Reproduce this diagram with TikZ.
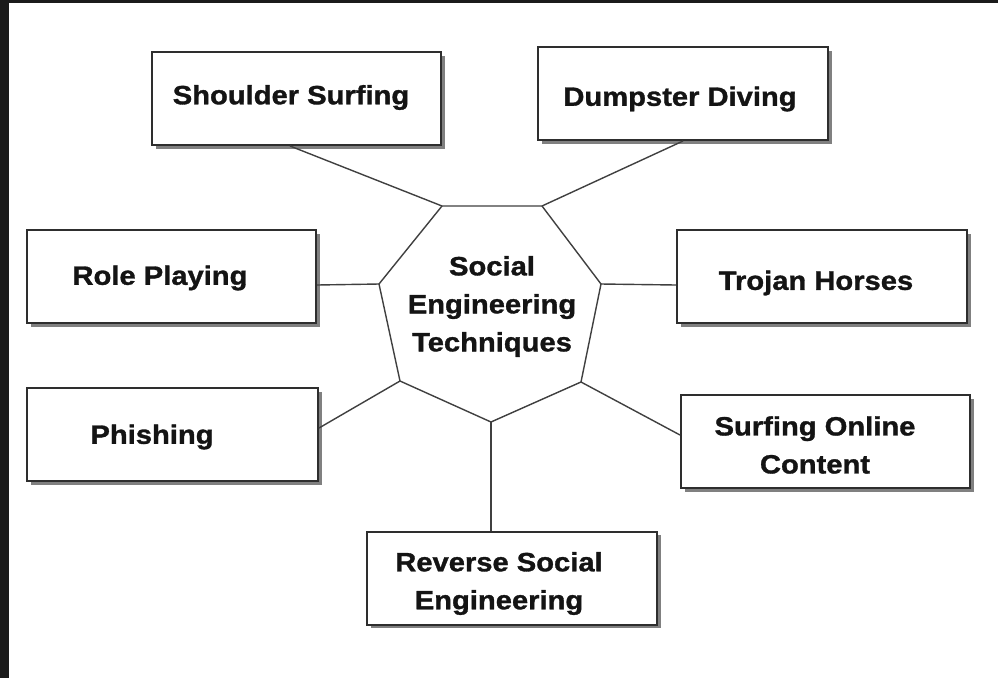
\documentclass[tikz,border=0pt]{standalone}
\usepackage{fontspec}
\setmainfont{Liberation Sans}[FakeStretch=1.1, BoldFeatures={FakeBold=1.2}]
\usetikzlibrary{shadows}
\definecolor{frame}{HTML}{1B1B1B}
\definecolor{edge}{HTML}{2E2E2E}
\definecolor{conn}{HTML}{404040}
\tikzset{
  tbox/.style={draw=edge, line width=2pt, fill=white, rectangle,
    minimum width=#1, minimum height=93pt, inner sep=0pt,
    drop shadow={shadow xshift=3.5pt, shadow yshift=-3.5pt, fill=gray!90!black, opacity=0.9}},
  tbox/.default=289pt,
  ttext/.style={font=\fontsize{26.5}{38}\selectfont\bfseries, text=black!92, align=center, inner sep=0pt},
  conline/.style={draw=conn, line width=1.4pt},
}
\begin{document}
\begin{tikzpicture}[x=1pt,y=-1pt]
\useasboundingbox (0,0) rectangle (998,678);
\fill[white] (0,0) rectangle (998,678);
\fill[frame] (0,0) rectangle (9,678);
\fill[frame] (0,0) rectangle (998,3);

% boxes
\node[tbox] (ss) at (296.5,98.5) {};
\node[tbox=290pt] (dd) at (683,93.5) {};
\node[tbox] (rp) at (171.5,276.5) {};
\node[tbox=290pt] (th) at (822,276.5) {};
\node[tbox=291pt] (ph) at (172.5,434.5) {};
\node[tbox] (so) at (825.5,441.5) {};
\node[tbox=290pt] (rs) at (512,578) {};

% box texts
\node[ttext] (tss) at (291,97.5) {Shoulder Surfing};
\node[ttext] (tdd) at (680,99) {Dumpster Diving};
\node[ttext] (trp) at (160,278) {Role Playing};
\node[ttext] (tth) at (816,283) {Trojan Horses};
\node[ttext] (tph) at (152,437) {Phishing};
\node[ttext] (tso) at (815,445) {Surfing Online\\Content};
\node[ttext] (trs) at (499,583.5) {Reverse Social\\Engineering};

% heptagon
\coordinate (v1) at (442,206);
\coordinate (v2) at (542,206);
\coordinate (v3) at (601,284);
\coordinate (v4) at (581,382);
\coordinate (v5) at (491,422);
\coordinate (v6) at (400,381);
\coordinate (v7) at (379,284);
\draw[conline] (v1) -- (v2) -- (v3) -- (v4) -- (v5) -- (v6) -- (v7) -- cycle;
\node[ttext] (center) at (492,306.5) {Social\\Engineering\\Techniques};

% connectors
\draw[conline] ([xshift=-6.5pt]ss.south) -- (v1);
\draw[conline] (dd.south) -- (v2);
\draw[conline] ([yshift=-8.5pt]rp.east) -- (v7);
\draw[conline] ([yshift=-8.5pt]th.west) -- (v3);
\draw[conline] ([yshift=6.5pt]ph.east) -- (v6);
\draw[conline] ([yshift=6.5pt]so.west) -- (v4);
\draw[conline] ([xshift=-21pt]rs.north) -- (v5);
\end{tikzpicture}
\end{document}
